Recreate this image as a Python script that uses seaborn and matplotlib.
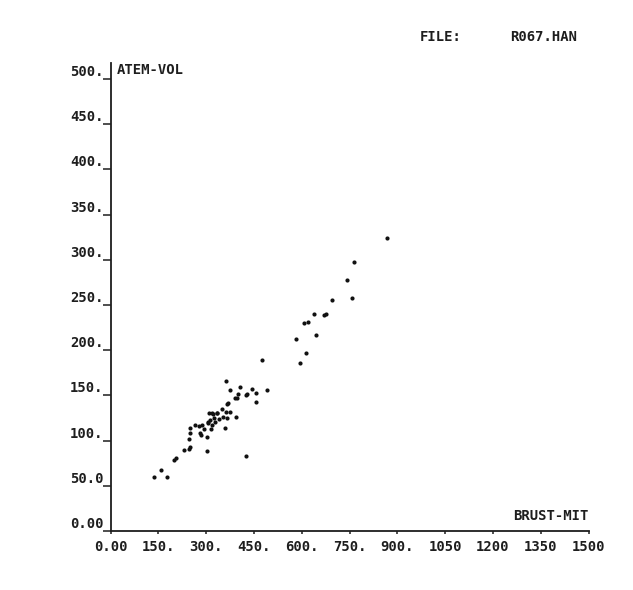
import matplotlib
matplotlib.use("Agg")
import matplotlib.pyplot as plt
import seaborn as sns
import pandas as pd

# Breath volume against mean chest excursion (file R067.HAN)
brust_mit = [
    137, 158, 176, 200, 205, 232, 246, 250, 245, 250,
    250, 264, 277, 281, 285, 287, 293, 302, 302, 305,
    307, 312, 315, 318, 310, 318, 323, 326, 329, 333,
    335, 341, 350, 352, 359, 363, 375, 366, 365, 368,
    394, 375, 362, 392, 396, 399, 407, 424, 427, 445,
    458, 458, 490, 425, 475, 595, 613, 582, 645, 607,
    619, 638, 670, 676, 695, 759, 764, 743, 869,
]
atem_vol = [
    60, 68, 60, 79, 81, 90, 91, 93, 102, 108,
    114, 117, 116, 108, 106, 117, 113, 104, 89, 121,
    119, 123, 113, 117, 130, 130, 129, 125, 121, 130,
    131, 124, 135, 126, 114, 132, 132, 125, 141, 142,
    126, 156, 166, 147, 147, 151, 159, 150, 152, 157,
    153, 143, 156, 83, 189, 186, 197, 212, 217, 230,
    231, 240, 239, 240, 256, 258, 298, 278, 324,
]

x_ticks = [0, 150, 300, 450, 600, 750, 900, 1050, 1200, 1350, 1500]
x_tick_labels = ["0.00", "150.", "300.", "450.", "600.", "750.", "900.",
                 "1050", "1200", "1350", "1500"]
y_ticks = [0, 50, 100, 150, 200, 250, 300, 350, 400, 450, 500]
y_tick_labels = ["0.00", "50.0", "100.", "150.", "200.", "250.", "300.",
                 "350.", "400.", "450.", "500."]

df = pd.DataFrame({"BRUST-MIT": brust_mit, "ATEM-VOL": atem_vol})

sns.set_style("ticks")
plt.rcParams["font.family"] = ["DejaVu Sans Mono", "DejaVu Sans"]
plt.rcParams["font.weight"] = "bold"
ink = "#1e1e1e"

fig = plt.figure(figsize=(6.33, 5.90), dpi=100)
ax = fig.add_axes([0.1746, 0.1, 0.7551, 0.7932])

sns.scatterplot(data=df, x="BRUST-MIT", y="ATEM-VOL", ax=ax,
                color="#111111", s=9, linewidth=0, legend=False)

ax.set_xlim(0, 1500)
ax.set_ylim(0, 517.7)
ax.set_xticks(x_ticks, x_tick_labels)
ax.set_yticks(y_ticks, y_tick_labels)
ax.set_xlabel("")
ax.set_ylabel("")

for side in ("top", "right"):
    ax.spines[side].set_visible(False)
for side in ("left", "bottom"):
    ax.spines[side].set_color(ink)
    ax.spines[side].set_linewidth(1.3)

ax.tick_params(axis="y", direction="out", length=6, width=1.1,
               color=ink, labelcolor=ink, labelsize=10, pad=-1)
ax.tick_params(axis="x", direction="out", length=2.5, width=1.1,
               color=ink, labelcolor=ink, labelsize=10, pad=4)
for lbl in ax.get_yticklabels():
    lbl.set_verticalalignment("bottom")

ax.text(0.013, 1.0, "ATEM-VOL", transform=ax.transAxes,
        ha="left", va="top", fontsize=10, color=ink)
ax.text(1.0, 0.018, "BRUST-MIT", transform=ax.transAxes,
        ha="right", va="bottom", fontsize=10, color=ink)

fig.text(420 / 633, 1 - 30 / 590, "FILE:", ha="left", va="top",
         fontsize=10, color=ink)
fig.text(510 / 633, 1 - 30 / 590, "R067.HAN", ha="left", va="top",
         fontsize=10, color=ink)

fig.savefig("out.png", dpi=100, facecolor="white")
